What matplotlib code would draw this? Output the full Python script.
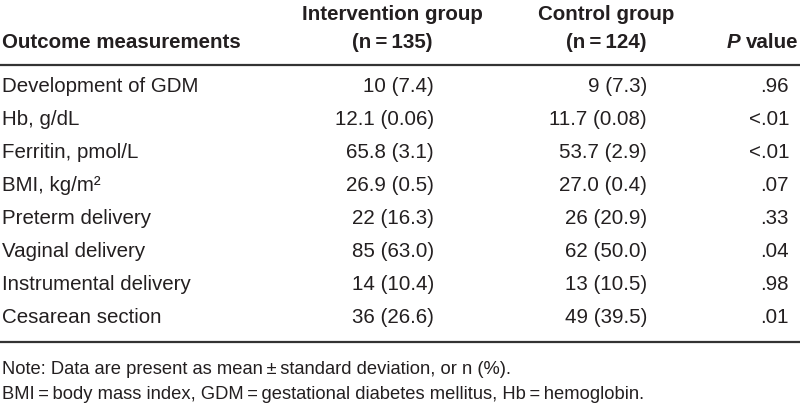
import matplotlib
matplotlib.use("Agg")
import matplotlib.pyplot as plt

FONT = ["Liberation Sans", "DejaVu Sans"]
COLOR = "#231f20"

outcomes = ["Development of GDM", "Hb, g/dL", "Ferritin, pmol/L", "BMI, kg/m²",
            "Preterm delivery", "Vaginal delivery", "Instrumental delivery", "Cesarean section"]
intervention = ["10 (7.4)", "12.1 (0.06)", "65.8 (3.1)", "26.9 (0.5)",
                "22 (16.3)", "85 (63.0)", "14 (10.4)", "36 (26.6)"]
control = ["9 (7.3)", "11.7 (0.08)", "53.7 (2.9)", "27.0 (0.4)",
           "26 (20.9)", "62 (50.0)", "13 (10.5)", "49 (39.5)"]
pvalues = [".96", "<.01", "<.01", ".07", ".33", ".04", ".98", ".01"]
headers = ["Outcome measurements", "Intervention group\n(n\u2009=\u2009135)",
           "Control group\n(n\u2009=\u2009124)", "value"]
notes = ["Note: Data are present as mean\u2009±\u2009standard deviation, or n (%).",
         "BMI\u2009=\u2009body mass index, GDM\u2009=\u2009gestational diabetes mellitus, Hb\u2009=\u2009hemoglobin."]

fig = plt.figure(figsize=(8, 4.11), dpi=100)
ax = fig.add_axes([0, 0, 1, 1])
ax.set_xlim(0, 800)
ax.set_ylim(411, 0)
ax.axis("off")

fs = 14.8
hfs = 14.8
# header
ax.text(2, 42, headers[0], fontsize=hfs, fontweight="bold", family=FONT, color=COLOR, va="center", ha="left")
for cx, h in [(392, headers[1]), (606, headers[2])]:
    l1, l2 = h.split("\n")
    ax.text(cx, 14, l1, fontsize=hfs, fontweight="bold", family=FONT, color=COLOR, va="center", ha="center")
    ax.text(cx, 42, l2, fontsize=hfs, fontweight="bold", family=FONT, color=COLOR, va="center", ha="center")
ax.text(798, 42, headers[3], fontsize=hfs, fontweight="bold", family=FONT, color=COLOR, va="center", ha="right")
ax.text(740, 42, "P", fontsize=hfs, fontweight="bold", style="italic", family=FONT, color=COLOR, va="center", ha="right")

ax.plot([0, 800], [65.5, 65.5], color="#333333", lw=1.6, solid_capstyle="butt")

y0, dy = 86, 33
for i in range(len(outcomes)):
    y = y0 + i * dy
    ax.text(2, y, outcomes[i], fontsize=fs, family=FONT, color=COLOR, va="center", ha="left")
    ax.text(434, y, intervention[i], fontsize=fs, family=FONT, color=COLOR, va="center", ha="right")
    ax.text(647, y, control[i], fontsize=fs, family=FONT, color=COLOR, va="center", ha="right")
    ax.text(789, y, pvalues[i], fontsize=fs, family=FONT, color=COLOR, va="center", ha="right")

ax.plot([0, 800], [341.5, 341.5], color="#333333", lw=1.6, solid_capstyle="butt")

ax.text(2, 369, notes[0], fontsize=13.2, family=FONT, color=COLOR, va="center", ha="left")
ax.text(2, 394, notes[1], fontsize=13.2, family=FONT, color=COLOR, va="center", ha="left")

fig.savefig("out.png", dpi=100, facecolor="white")
